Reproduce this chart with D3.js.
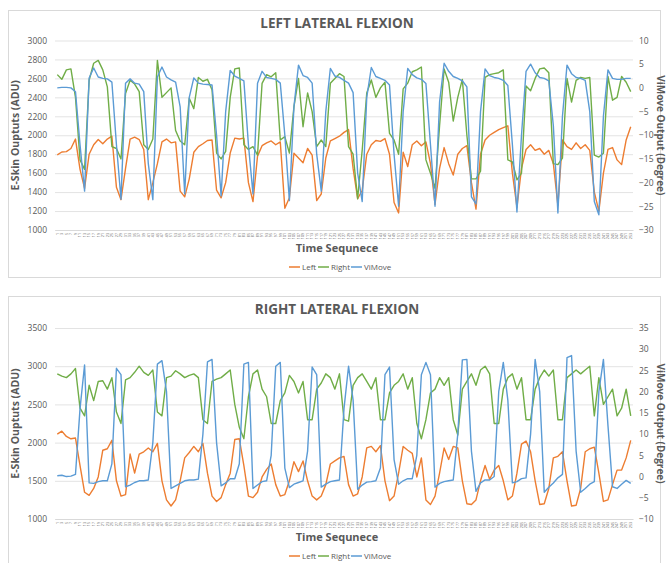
<!DOCTYPE html>
<html lang="en">
<head>
<meta charset="UTF-8">
<title>Lateral Flexion</title>
<script src="https://cdn.jsdelivr.net/npm/d3@7"></script>
<style>
body { margin: 0; background: #fff; }
text { font-family: "Open Sans", "Liberation Sans", sans-serif; fill: #595959; }
</style>
</head>
<body>
<svg id="chart" width="668" height="563"></svg>
<script>
// ---- data ----
const seriesNames = ["Left", "Right", "ViMove"];
const seriesColors = ["#ED7D31", "#70AD47", "#5B9BD5"];

// LEFT LATERAL FLEXION
const lfLeft = [1792,1823,1827,1860,1960,1640,1440,1800,1900,1955,1910,1960,1990,1450,1320,1650,1960,1980,1955,1850,
  1320,1500,1700,1930,1960,1920,1930,1410,1350,1540,1820,1880,1910,1945,1950,1420,1340,1500,1812,1970,
  1960,1970,1500,1300,1780,1890,1920,1940,1900,1930,1230,1340,1810,1760,1710,1860,1790,1310,1380,1760,
  1940,1965,1990,2030,2060,1650,1330,1420,1800,1900,1945,1935,1965,1800,1290,1180,1820,1670,1900,1940,
  1890,1930,1700,1270,1650,1870,1700,1580,1800,1860,1890,1500,1220,1800,1950,2000,2030,2060,2080,2100,
  1600,1240,1650,1850,1900,1840,1860,1800,1840,1700,1260,1950,1880,1850,1920,1860,1900,1840,1400,1200,
  1600,1850,1870,1740,1690,1950,2090];
const lfRight = [2640,2590,2690,2700,2400,1740,1640,2580,2760,2790,2690,2510,1880,1860,1750,2440,2580,2540,2460,1900,
  1850,1960,2790,2400,2450,2500,2050,1940,1900,2390,2280,2610,2570,2590,2480,1812,1750,1830,2400,2700,
  2710,1900,1850,1880,1790,2548,2640,2617,2660,1950,1985,1812,2300,2600,2090,2446,2250,1880,1950,1880,
  2548,2600,2650,2620,1880,1800,1330,1844,2446,2583,2400,2500,2560,2020,1950,1800,2490,2550,2670,2690,
  2720,1740,1600,1440,2100,2700,2560,2150,2400,2590,2000,1540,1540,1620,2610,2640,2650,2660,2690,1740,
  1720,1530,1600,2520,2470,2600,2700,2710,2660,1700,1690,1760,2600,2350,2580,2610,2600,2610,1790,1770,
  1810,2620,2370,2400,2620,2560,2460];
const lfViMove = [0,0.1,0.1,0,-0.8,-12,-21.8,2.1,4.2,2.3,2.0,1.9,1.2,-12,-23.5,1.0,1.9,1.0,0.8,-0.8,
  -16,-23.6,2.3,4.4,2.3,1.7,1.2,-4,-22.4,-2,2.1,1.0,0.8,0.7,0.6,-10,-22.8,-5,3.7,2.5,
  2.0,1.5,-12,-22.4,1.0,3.5,2.2,2.0,1.8,1.0,-10,-23.8,-4,4.8,2.6,2.2,1.0,-14,-21.8,-5,
  4.1,2.5,2.2,1.6,1.0,-1,-18,-24,-2,4.3,2.4,2.0,1.6,0.6,-14,-25,-5,4.1,2.8,2.1,
  1.8,0.9,-12,-25,-3,5.2,3.5,2.4,2.0,1.5,0.2,-23,-24.5,-5,4.0,2.6,2.2,2.0,1.6,0.5,
  -12,-26.2,-10,3.5,5.0,3.2,2.2,2.0,1.5,-8,-26.4,-6,4.8,3.0,2.2,2.0,1.6,-5,-24,-26.8,
  -6,3.8,2.0,1.8,1.8,2.0,2.0];

// RIGHT LATERAL FLEXION
const rfLeft = [2110,2150,2080,2050,2060,1700,1350,1310,1400,1550,1900,1920,2030,1500,1300,1320,1850,1600,1850,1880,
  1930,1880,1990,1500,1250,1170,1250,1500,1800,1870,1950,1880,1990,1600,1300,1230,1280,1450,1600,2040,
  2050,1700,1300,1280,1350,1550,1650,1720,1450,1300,1320,1500,1750,1620,1760,1500,1300,1250,1300,1450,
  1720,1760,1800,1820,1450,1300,1330,1550,1930,1950,1880,1960,1500,1240,1300,1600,1950,1900,1860,1550,
  1800,1250,1190,1300,1600,1930,1780,1950,1930,1500,1200,1190,1250,1500,1700,1520,1640,1700,1500,1250,
  1300,1600,1980,2020,1880,1500,1190,1200,1400,1800,1820,1880,1500,1170,1180,1400,1880,1920,1940,1600,
  1230,1250,1450,1640,1640,1800,2030];
const rfRight = [2900,2870,2850,2900,2970,2450,2350,2750,2550,2800,2810,2700,2850,2400,2250,2820,2850,2920,3000,2920,
  2880,2950,2400,2350,2850,2870,2940,2900,2850,2880,2900,2850,2300,2250,2800,2830,2850,2900,2950,2500,
  2200,2050,2600,2900,2950,2700,2600,2250,2250,2550,2650,2880,2800,2650,2800,2300,2300,2700,2780,2900,
  2850,2700,2900,2300,2280,2750,2850,2900,2800,2700,2850,2300,2300,2650,2750,2800,2900,2700,2850,2250,
  2050,2300,2650,2700,2850,2750,2850,2300,2100,2700,2800,2900,2750,2950,3000,2900,2250,2250,2700,2850,
  2900,2700,2850,2300,2300,2700,2850,2950,2870,2950,2300,2300,2850,2900,2950,2900,2950,3000,2350,2850,
  2500,2600,2700,2350,2450,2700,2350];
const rfViMove = [0.2,0.3,0,0.1,0.5,16,26.3,-1.5,-1.6,-1.2,-1.0,-1.0,3,25.5,24,-2.4,-2.0,-1.4,-1.0,-1.0,
  -0.8,8,26.5,27.3,20,-2.8,-2.2,-1.6,-1.0,-0.8,-0.8,-0.6,10,27,27.6,8,-2.2,-1.5,-0.5,-0.5,
  3,26.5,26.9,-2.8,-2.0,-1.2,-1.0,5,26,26.9,2,-2.6,-1.8,-1.4,-1.0,6,25.8,24,-2.5,-1.8,
  -1.2,-1.0,-0.8,16,26,18,-3,-2.0,-1.3,-1.2,-1.0,2,24,25.8,4,-1.8,-1.0,-0.5,-0.5,5,
  24,26.9,24,-2.5,-1.6,-1.2,-1.0,-0.8,10,27.5,27.6,6,-3.5,-1.5,-0.8,-0.8,0,20,26.9,18,
  -1.5,-1.2,-0.5,-0.3,10,27.6,20,-3.7,-2.5,-1.5,-0.3,0.5,28,28.5,6,-3.7,-2.8,-1.8,-1.2,20,
  27.6,12,-2.4,-2.8,-1.8,-0.9,-1.6];

const timeLabels = d3.range(1, 2 * lfLeft.length, 2);   // 1, 3, 5, ...

const leftTicks1 = [1000,1200,1400,1600,1800,2000,2200,2400,2600,2800,3000];
const rightTicks1 = [-30,-25,-20,-15,-10,-5,0,5,10];
const leftTicks2 = [1000,1500,2000,2500,3000,3500];
const rightTicks2 = [-10,-5,0,5,10,15,20,25,30,35];

const panels = [
  { title: "LEFT LATERAL FLEXION", box: [8, 10, 652, 267], top: 40.5, bottom: 230,
    leftTicks: leftTicks1, rightTicks: rightTicks1, series: [lfLeft, lfRight, lfViMove] },
  { title: "RIGHT LATERAL FLEXION", box: [8, 296, 652, 272], top: 328, bottom: 519,
    leftTicks: leftTicks2, rightTicks: rightTicks2, series: [rfLeft, rfRight, rfViMove] }
];

const svg = d3.select("#chart");
const plotL = 55, plotR = 633;

panels.forEach(p => {
  const g = svg.append("g");
  g.append("rect")
    .attr("x", p.box[0] + 0.5).attr("y", p.box[1] + 0.5)
    .attr("width", p.box[2]).attr("height", p.box[3])
    .attr("fill", "#fff").attr("stroke", "#d9d9d9");

  const n = p.series[0].length;
  const x = d3.scaleBand().domain(d3.range(n)).range([plotL, plotR]);
  const cx = i => x(i) + x.bandwidth() / 2;
  const yL = d3.scaleLinear().domain(d3.extent(p.leftTicks)).range([p.bottom, p.top]);
  const yR = d3.scaleLinear().domain(d3.extent(p.rightTicks)).range([p.bottom, p.top]);

  // gridlines + left labels
  const axL = g.append("g").attr("transform", `translate(${plotL},0)`)
    .call(d3.axisLeft(yL).tickValues(p.leftTicks).tickFormat(d3.format("d"))
      .tickSize(-(plotR - plotL)).tickPadding(8));
  axL.select(".domain").remove();
  axL.selectAll("line").attr("stroke", "#e3e3e3");
  axL.selectAll("text").attr("font-size", 8.5).attr("fill", "#595959");

  const axR = g.append("g").attr("transform", `translate(${plotR},0)`)
    .call(d3.axisRight(yR).tickValues(p.rightTicks).tickSize(0).tickPadding(6));
  axR.select(".domain").remove();
  axR.selectAll("text").attr("font-size", 8.5).attr("fill", "#595959");

  // category labels
  const axX = g.append("g").attr("transform", `translate(0,${p.bottom})`)
    .call(d3.axisBottom(x).tickSize(0).tickFormat(i => timeLabels[i]));
  axX.select(".domain").attr("stroke", "#d9d9d9");
  axX.selectAll("text")
    .attr("font-size", 3.6).attr("fill", "#7f7f7f")
    .attr("text-anchor", "end").attr("dy", "0.35em")
    .attr("transform", "translate(0,3) rotate(-90)").attr("x", 0).attr("y", 0);

  // lines
  p.series.forEach((vals, k) => {
    const ys = k === 2 ? yR : yL;
    g.append("path")
      .datum(vals)
      .attr("fill", "none")
      .attr("stroke", seriesColors[k])
      .attr("stroke-width", 1.4)
      .attr("stroke-linejoin", "round")
      .attr("d", d3.line().x((d, i) => cx(i)).y(d => ys(d)));
  });

  const midY = (p.top + p.bottom) / 2;
  g.append("text").attr("x", 337).attr("y", p.box[1] + 18)
    .attr("text-anchor", "middle").attr("font-size", 13.5).attr("font-weight", "bold")
    .text(p.title);
  g.append("text").attr("transform", `translate(19,${midY}) rotate(-90)`)
    .attr("text-anchor", "middle").attr("font-size", 10.5).attr("font-weight", "bold")
    .text("E-Skin Ouptuts (ADU)");
  g.append("text").attr("transform", `translate(656.5,${midY}) rotate(90)`)
    .attr("text-anchor", "middle").attr("font-size", 10).attr("font-weight", "bold")
    .text("ViMove Output (Degree)");
  g.append("text").attr("x", 337).attr("y", p.bottom + 22)
    .attr("text-anchor", "middle").attr("font-size", 11).attr("font-weight", "bold")
    .text("Time Sequnece");

  // legend
  const lg = g.append("g").attr("transform", `translate(0,${p.bottom + 37})`);
  const legX = [289, 318, 351];
  seriesNames.forEach((s, k) => {
    lg.append("line").attr("x1", legX[k]).attr("x2", legX[k] + 11)
      .attr("y1", 0).attr("y2", 0)
      .attr("stroke", seriesColors[k]).attr("stroke-width", 1.5);
    lg.append("text").attr("x", legX[k] + 13).attr("y", 3)
      .attr("font-size", 8).text(s);
  });
});
</script>
</body>
</html>
